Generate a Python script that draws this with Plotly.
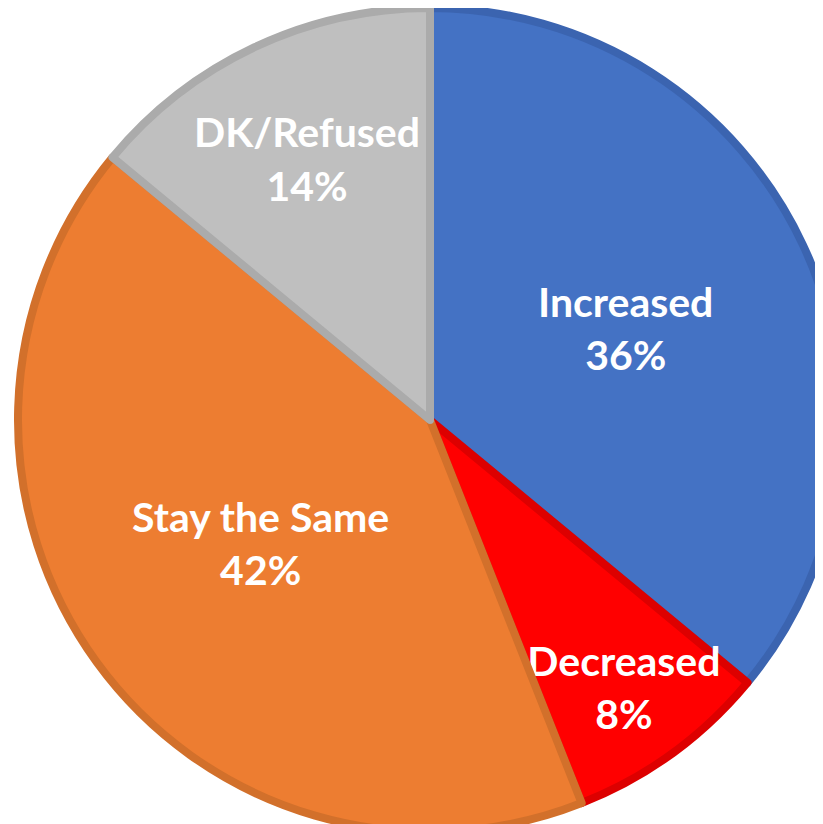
import plotly.graph_objects as go

# Survey answer shares (percent)
labels = ['Increased', 'Decreased', 'Stay the Same', 'DK/Refused']
values = [36, 8, 42, 14]

slice_colors = ['#4472C4', '#FF0000', '#ED7D31', '#BFBFBF']
edge_colors = ['#3B64B0', '#DD0000', '#D2702B', '#ABABAB']

fig = go.Figure(go.Pie(
    labels=labels,
    values=values,
    sort=False,
    direction='clockwise',
    rotation=0,
    marker=dict(colors=slice_colors, line=dict(color=edge_colors, width=8)),
    texttemplate='<b>%{label}<br>%{value}%</b>',
    textposition='inside',
    insidetextorientation='horizontal',
    textfont=dict(family='Lato', size=41, color='white'),
    hoverinfo='label+percent',
    showlegend=False,
    domain=dict(x=[0, 1], y=[0, 1]),
))

fig.update_layout(
    width=834,
    height=824,
    margin=dict(l=10, r=0, t=0, b=0),
    paper_bgcolor='white',
    plot_bgcolor='white',
    # keep every label at full size even where it spills over its slice
    uniformtext=dict(minsize=41, mode='show'),
)

fig.write_html("out.html")
